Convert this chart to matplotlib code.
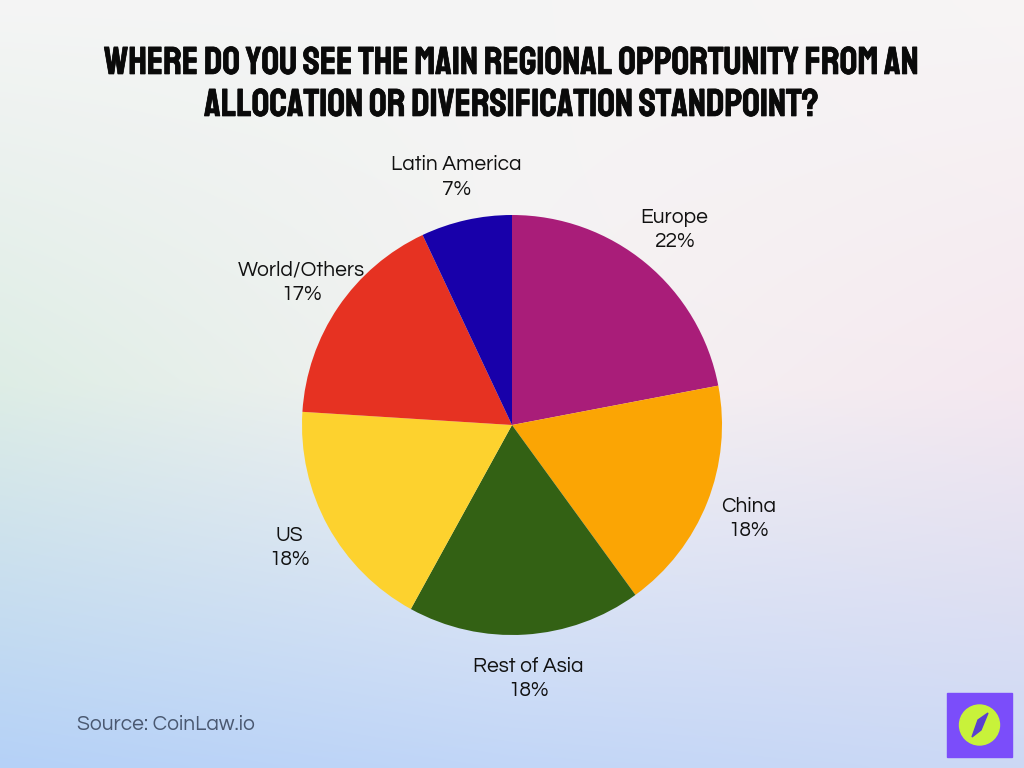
import numpy as np
import matplotlib
matplotlib.use("Agg")
import matplotlib.pyplot as plt
import matplotlib.patheffects as pe
from matplotlib.patches import Rectangle, Circle, Polygon

# 数据
regions = ["Europe", "China", "Rest of Asia", "US", "World/Others", "Latin America"]
shares = [22, 18, 18, 18, 17, 7]
colors = ["#A91D79", "#FBA504", "#336114", "#FDD22E", "#E63222", "#1800AA"]

title = "Where do you see the main regional opportunity from an\nallocation or diversification standpoint?"
source = "Source: CoinLaw.io"

W, H = 1024, 768
label_font = ["Questrial", "Lexend", "Poppins", "DejaVu Sans"]
fig = plt.figure(figsize=(W / 100, H / 100), dpi=100)

# 背景渐变
bg = fig.add_axes([0, 0, 1, 1])
corners = np.array([
    [[0.96, 0.96, 0.96], [0.96, 0.96, 0.96], [0.97, 0.96, 0.96]],
    [[0.87, 0.93, 0.90], [0.96, 0.95, 0.95], [0.96, 0.91, 0.94]],
    [[0.71, 0.82, 0.97], [0.76, 0.84, 0.97], [0.80, 0.85, 0.96]],
])
yy, xx = np.mgrid[0:1:200j, 0:1:260j]
img = np.zeros((200, 260, 3))
fx, fy = xx * 2, yy * 2
ix = np.clip(fx.astype(int), 0, 1)
iy = np.clip(fy.astype(int), 0, 1)
tx, ty = fx - ix, fy - iy
for c in range(3):
    g = corners[:, :, c]
    img[:, :, c] = (g[iy, ix] * (1 - tx) * (1 - ty) + g[iy, ix + 1] * tx * (1 - ty)
                    + g[iy + 1, ix] * (1 - tx) * ty + g[iy + 1, ix + 1] * tx * ty)
bg.imshow(img, aspect="auto", extent=[0, 1, 0, 1], interpolation="bicubic")
bg.set_axis_off()

# 饼图
ax = fig.add_axes([0, 0, 1, 1])
ax.patch.set_alpha(0)
wedges, texts = ax.pie(shares, labels=[f"{r}\n{s}%" for r, s in zip(regions, shares)],
                       colors=colors, startangle=90, counterclock=False,
                       center=(512, H - 425), radius=210, frame=True,
                       labeldistance=1.21,
                       textprops=dict(fontsize=15, color="#111111", linespacing=1.35,
                                      family=label_font))
for t in texts:
    t.set_horizontalalignment("center")
    t.set_verticalalignment("center")
ax.set_xlim(0, W)
ax.set_ylim(0, H)
ax.set_axis_off()

# 标题
fig.text(0.5, 1 - 81 / H, title.upper(), ha="center", va="center", fontsize=28,
         family=["Staatliches", "Bebas Neue", "DejaVu Sans"],
         linespacing=1.5, color="#0a0a0a",
         path_effects=[pe.withStroke(linewidth=0.5, foreground="#0a0a0a")])

fig.text(77 / W, 1 - 725 / H, source, ha="left", va="center", fontsize=15,
         color="#4a5870", family=label_font)

# 角标
ax.add_patch(Rectangle((947, H - 757), 65, 64, color="#7B4DFA"))
ax.add_patch(Circle((979.5, H - 725), 20, color="#C8F23A"))
ax.add_patch(Polygon([(972, H - 737), (978, H - 720), (988, H - 713), (981, H - 730)],
                     closed=True, color="#5A3FD0"))

fig.savefig("out.png", dpi=100)
